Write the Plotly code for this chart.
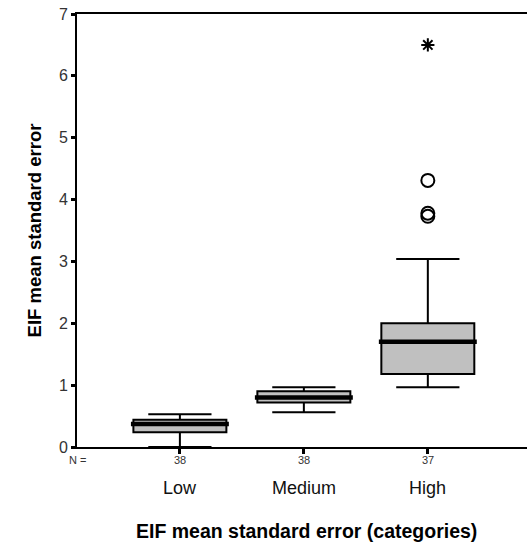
import plotly.graph_objects as go

categories = ["Low", "Medium", "High"]
counts = ["38", "38", "37"]
positions = [0, 1, 2]
q1 = [0.24, 0.72, 1.18]
median = [0.37, 0.80, 1.70]
q3 = [0.44, 0.90, 2.00]
lower_whisker = [0.00, 0.56, 0.965]
upper_whisker = [0.53, 0.965, 3.04]
outlier_x = [2, 2, 2]
outlier_y = [4.31, 3.78, 3.73]
extreme_x = [2]
extreme_y = [6.5]

BOX_W = 0.75
FONT = "Liberation Sans, Arial, sans-serif"

fig = go.Figure()
fig.add_trace(go.Box(
    x=positions, q1=q1, median=median, q3=q3,
    lowerfence=lower_whisker, upperfence=upper_whisker,
    width=BOX_W, whiskerwidth=0.68,
    fillcolor="#c0c0c0", line=dict(color="black", width=2),
    boxpoints=False, showlegend=False, hoverinfo="skip",
))
for p, m in zip(positions, median):
    fig.add_trace(go.Scatter(
        x=[p - BOX_W / 2 - 0.02, p + BOX_W / 2 + 0.02], y=[m, m], mode="lines",
        line=dict(color="black", width=4.5), showlegend=False, hoverinfo="skip",
    ))
fig.add_trace(go.Scatter(
    x=outlier_x, y=outlier_y, mode="markers",
    marker=dict(symbol="circle-open", size=13, color="black", line=dict(width=2)),
    showlegend=False,
))
fig.add_trace(go.Scatter(
    x=extreme_x, y=extreme_y, mode="markers",
    marker=dict(symbol="asterisk-open", size=11, color="black", line=dict(width=2)),
    showlegend=False,
))

annotations = [
    dict(x=p, y=-0.095, xref="x", yref="paper", text=c, showarrow=False,
         font=dict(family=FONT, size=18, color="#111"), yanchor="middle")
    for p, c in zip(positions, categories)
]
annotations += [
    dict(x=p, y=-0.03, xref="x", yref="paper", text=n, showarrow=False,
         font=dict(family=FONT, size=11, color="#333"), yanchor="middle")
    for p, n in zip(positions, counts)
]
annotations.append(dict(x=-0.83, y=-0.03, xref="x", yref="paper", text="N =",
                        showarrow=False, xanchor="center", yanchor="middle",
                        font=dict(family=FONT, size=11, color="#333")))
annotations.append(dict(x=0.51, y=-0.195, xref="paper", yref="paper",
                        text="<b>EIF mean standard error (categories)</b>",
                        showarrow=False, yanchor="middle",
                        font=dict(family=FONT, size=19.5, color="black")))

fig.update_layout(
    width=527, height=554,
    margin=dict(l=77, r=0, t=14, b=107, autoexpand=False),
    paper_bgcolor="white", plot_bgcolor="white",
    showlegend=False,
    annotations=annotations,
    xaxis=dict(
        range=[-0.83, 2.8], tickvals=positions, showticklabels=False,
        showline=True, linecolor="black", linewidth=2, mirror=True,
        ticks="outside", ticklen=5, tickwidth=3, tickcolor="black",
        showgrid=False, zeroline=False, automargin=False,
    ),
    yaxis=dict(
        range=[0, 7], tickvals=list(range(8)),
        showline=True, linecolor="black", linewidth=2,
        ticks="outside", ticklen=4, tickwidth=3, tickcolor="black",
        tickfont=dict(family=FONT, size=16, color="#333"),
        ticklabeloverflow="allow",
        showgrid=False, zeroline=False, automargin=False,
        title=dict(text="<b>EIF mean standard error</b>", standoff=12,
                   font=dict(family=FONT, size=18.5, color="black")),
    ),
)

fig.write_html("out.html",
               config={"displayModeBar": False},
               post_script="document.body.style.margin='0px';document.body.style.overflow='hidden';")
